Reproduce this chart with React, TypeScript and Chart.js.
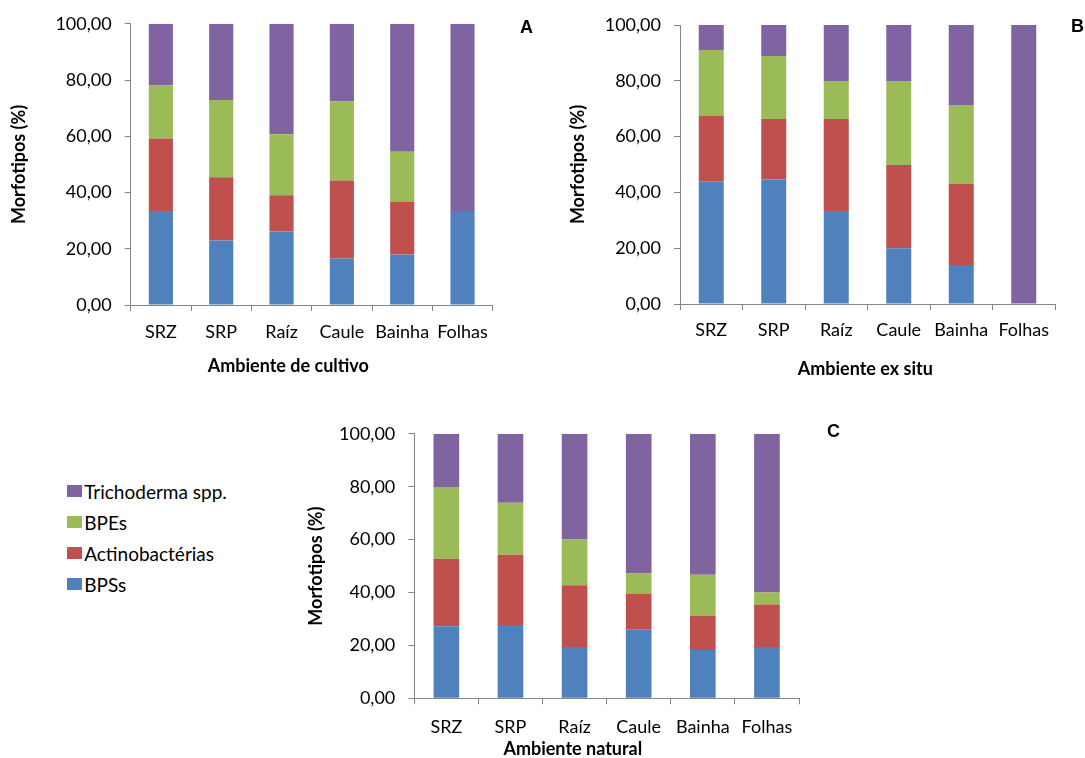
import React, { useEffect, useRef } from 'react';
import { Chart, registerables } from 'chart.js';

Chart.register(...registerables);

// ---------- data ----------
const categories = ['SRZ', 'SRP', 'Raíz', 'Caule', 'Bainha', 'Folhas'];
const seriesNames = ['BPSs', 'Actinobactérias', 'BPEs', 'Trichoderma spp.'];
const yTicks = [0, 20, 40, 60, 80, 100];

// Panel A – Ambiente de cultivo
const cultivoBPSs = [33.4, 22.9, 26.1, 16.5, 18.0, 33.4];
const cultivoActino = [25.8, 22.5, 12.9, 27.8, 18.6, 0];
const cultivoBPEs = [18.9, 27.5, 21.7, 28.1, 17.9, 0];
const cultivoTricho = [21.9, 27.1, 39.3, 27.6, 45.5, 66.6];

// Panel B – Ambiente ex situ
const exSituBPSs = [44.0, 44.6, 33.3, 20.0, 14.0, 0];
const exSituActino = [23.4, 21.7, 33.0, 29.8, 29.0, 0];
const exSituBPEs = [23.6, 22.6, 13.6, 30.1, 28.3, 0];
const exSituTricho = [9.0, 11.1, 20.1, 20.1, 28.7, 100];

// Panel C – Ambiente natural
const naturalBPSs = [27.2, 27.7, 19.4, 26.1, 18.3, 19.4];
const naturalActino = [25.6, 26.6, 23.3, 13.3, 12.9, 16.1];
const naturalBPEs = [27.1, 19.6, 17.3, 7.8, 15.5, 4.5];
const naturalTricho = [20.1, 26.1, 40.0, 52.8, 53.3, 60.0];

// ---------- styles ----------
const seriesColors = ['#4F81BD', '#C0504D', '#9BBB59', '#8064A2'];
const AXIS_COLOR = '#868686';
const FONT = 'Lato';
const TICK_SIZE = 18;
const TITLE_SIZE = 18;
const TICK_LEN = 6;

type Geo = {
  left: number; top: number; w: number; h: number;
  l: number; r: number; t: number; b: number;
  yTitleX: number; xTitle: string; xTitleX: number; xTitleY: number;
  labelY: number; letter: string; letterX: number; letterY: number;
};

const fmt = (v: number) => v.toFixed(2).replace('.', ',');

function Panel({ series, geo }: { series: number[][]; geo: Geo }) {
  const ref = useRef<HTMLCanvasElement | null>(null);
  useEffect(() => {
    if (!ref.current) return;
    const lineH = TICK_SIZE * 1.2;
    const xPad = geo.labelY - geo.b - TICK_LEN - lineH / 2;
    const titleLineH = TITLE_SIZE * 1.2;
    const overlay = {
      id: 'overlay',
      afterDraw(chart: any) {
        const ctx = chart.ctx;
        ctx.save();
        ctx.fillStyle = '#000';
        ctx.font = `bold ${TITLE_SIZE}px ${FONT}`;
        ctx.textAlign = 'center';
        ctx.textBaseline = 'middle';
        ctx.fillText(geo.xTitle, geo.xTitleX, geo.xTitleY);
        ctx.font = 'bold 18px "Liberation Sans", Arial, sans-serif';
        ctx.textAlign = 'left';
        ctx.textBaseline = 'alphabetic';
        ctx.fillText(geo.letter, geo.letterX, geo.letterY);
        ctx.restore();
      },
    };
    const chart = new Chart(ref.current, {
      type: 'bar',
      data: {
        labels: categories,
        datasets: series.map((d, i) => ({
          label: seriesNames[i],
          data: d,
          backgroundColor: seriesColors[i],
          borderWidth: 0,
          barPercentage: 0.4,
          categoryPercentage: 1,
        })),
      },
      options: {
        responsive: false,
        animation: false,
        layout: { padding: { left: 0, top: geo.t, right: geo.w - geo.r, bottom: 0 } },
        plugins: { legend: { display: false }, tooltip: { enabled: false } },
        scales: {
          x: {
            stacked: true,
            offset: true,
            grid: { display: true, offset: true, drawOnChartArea: false, drawTicks: true, tickLength: TICK_LEN, color: AXIS_COLOR },
            border: { display: true, color: AXIS_COLOR, width: 1 },
            ticks: { font: { family: FONT, size: TICK_SIZE }, color: '#000', padding: xPad, maxRotation: 0, autoSkip: false },
            afterFit: (s: any) => { s.height = geo.h - geo.b; },
          },
          y: {
            stacked: true,
            min: 0,
            max: 100,
            afterBuildTicks: (s: any) => { s.ticks = yTicks.map((v) => ({ value: v })); },
            grid: { display: true, drawOnChartArea: false, drawTicks: true, tickLength: TICK_LEN, color: AXIS_COLOR },
            border: { display: true, color: AXIS_COLOR, width: 1 },
            ticks: { font: { family: FONT, size: TICK_SIZE }, color: '#000', padding: 13, callback: (v: any) => fmt(Number(v)) },
            title: {
              display: true,
              text: 'Morfotipos (%)',
              color: '#000',
              font: { family: FONT, size: TITLE_SIZE, weight: 'bold' },
              padding: { top: geo.yTitleX - titleLineH / 2, bottom: 0 },
            },
            afterFit: (s: any) => { s.width = geo.l; },
          },
        },
      },
      plugins: [overlay],
    } as any);
    return () => chart.destroy();
  }, []);
  return (
    <canvas
      ref={ref}
      width={geo.w}
      height={geo.h}
      style={{ position: 'absolute', left: geo.left, top: geo.top, width: geo.w, height: geo.h }}
    />
  );
}

const geoA: Geo = {
  left: 0, top: 0, w: 545, h: 390,
  l: 130.7, r: 492.7, t: 21.7, b: 305,
  yTitleX: 19, xTitle: 'Ambiente de cultivo', xTitleX: 288.3, xTitleY: 366,
  labelY: 331.7, letter: 'A', letterX: 520, letterY: 33.3,
};
const geoB: Geo = {
  left: 545, top: 0, w: 540, h: 390,
  l: 135, r: 510, t: 25, b: 304,
  yTitleX: 33, xTitle: 'Ambiente ex situ', xTitleX: 320.3, xTitleY: 369.3,
  labelY: 330, letter: 'B', letterX: 526, letterY: 32.3,
};
const geoC: Geo = {
  left: 300, top: 410, w: 540, h: 348,
  l: 114.3, r: 499, t: 18.3, b: 288.3,
  yTitleX: 16, xTitle: 'Ambiente natural', xTitleX: 272.8, xTitleY: 339.3,
  labelY: 316.7, letter: 'C', letterX: 527, letterY: 26.7,
};

const legendY = [491, 522, 553, 584];

export default function App() {
  const order = [3, 2, 1, 0];
  return (
    <div style={{ position: 'absolute', left: 0, top: 0, width: 1085, height: 758, background: '#fff', overflow: 'hidden' }}>
      <Panel geo={geoA} series={[cultivoBPSs, cultivoActino, cultivoBPEs, cultivoTricho]} />
      <Panel geo={geoB} series={[exSituBPSs, exSituActino, exSituBPEs, exSituTricho]} />
      <Panel geo={geoC} series={[naturalBPSs, naturalActino, naturalBPEs, naturalTricho]} />
      {order.map((si, k) => (
        <div key={si} style={{ position: 'absolute', left: 66.7, top: legendY[k] - 11, height: 22, display: 'flex', alignItems: 'center', fontFamily: FONT, fontSize: 19, color: '#000', whiteSpace: 'nowrap' }}>
          <span style={{ display: 'inline-block', width: 15, height: 12, background: seriesColors[si], marginRight: 2.5 }} />
          <span>{seriesNames[si]}</span>
        </div>
      ))}
    </div>
  );
}
